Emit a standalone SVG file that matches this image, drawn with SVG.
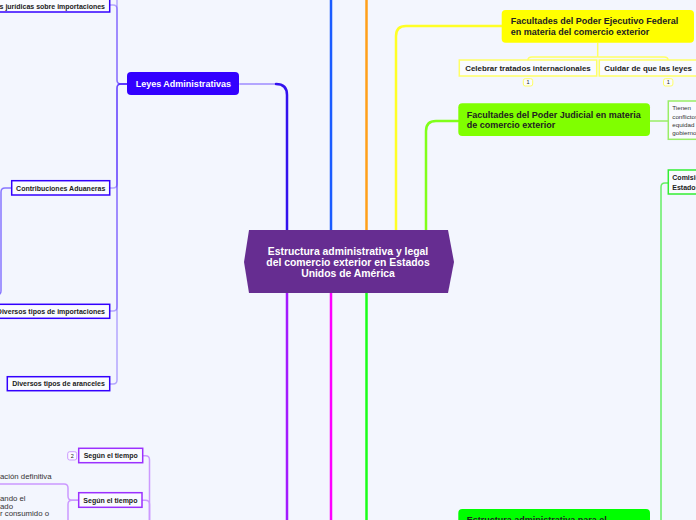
<svg xmlns="http://www.w3.org/2000/svg" width="696" height="520" viewBox="0 0 696 520">
<style>
text{font-family:"Liberation Sans",Arial,sans-serif;fill:#222}
.b{font-weight:bold}
.w{fill:#fff;font-weight:bold}
.leaf{fill:#fafbff;stroke-width:1.5}
.c{fill:none;stroke-linecap:round}
.s{font-size:7px}
.n{font-size:7.8px;font-weight:normal;fill:#333}
.badge{font-size:5.5px;text-anchor:middle}
</style>
<rect width="696" height="520" fill="#f3f6fe"/>
<g id="connectors">
  <path class="c" d="M240,84 H276" stroke="#b3a6ff" stroke-width="2"/>
  <path class="c" d="M276,84 Q287,84 287,95 V230" stroke="#3311ee" stroke-width="2.5"/>
  <path class="c" d="M331,0 V230" stroke="#1a5cff" stroke-width="2.5"/>
  <path class="c" d="M366.5,0 V230" stroke="#ff9f1a" stroke-width="2.5"/>
  <path class="c" d="M502,26 H406 Q396,26 396,36 V230" stroke="#ffff26" stroke-width="2.5"/>
  <path class="c" d="M458,121 H436 Q426,121 426,131 V230" stroke="#80ff1a" stroke-width="2.5"/>
  <path class="c" d="M287,293 V520" stroke="#a31aff" stroke-width="2.5"/>
  <path class="c" d="M331,293 V520" stroke="#ff00ff" stroke-width="2.5"/>
  <path class="c" d="M366.5,293 V520" stroke="#1aff1a" stroke-width="2.5"/>
  <g stroke="#3300ff" stroke-opacity="0.33" stroke-width="1.5" fill="none">
    <path d="M127,84 H121 Q117,84 117,80 V0"/>
    <path d="M127,84 H121 Q117,84 117,80 V9 Q117,5 113,5 H110"/>
    <path d="M127,84 H121 Q117,84 117,88 V184 Q117,188 113,188 H110"/>
    <path d="M127,84 H121 Q117,84 117,88 V307 Q117,311 113,311 H110"/>
    <path d="M127,84 H121 Q117,84 117,88 V380 Q117,384 113,384 H110"/>
  </g>
  <path class="c" d="M11.7,188 H5 Q1,188 1,192 V291 Q1,295 -3,295" stroke="#8877ff" stroke-width="1.5"/>
  <g stroke="#ffff66" stroke-width="1.5" fill="none">
    <path d="M597.7,43 V57"/>
    <path d="M597.7,57 H532 Q528,57 528,60"/>
    <path d="M597.7,57 H664 Q668,57 668,60"/>
  </g>
  <path class="c" d="M650,121 H668" stroke="#99ee66" stroke-width="1.5"/>
  <path class="c" d="M650,530 H657 Q661,530 661,526 V187 Q661,183 665,183 H668" stroke="#66ee66" stroke-width="1.5"/>
  <g stroke="#cc99ff" stroke-width="1.5" fill="none">
    <path d="M142.7,455.7 H145.5 Q149.5,455.7 149.5,459.7 V520"/>
    <path d="M142,500.3 H145.5 Q149.5,500.3 149.5,504.3 V520"/>
    <path d="M78.7,500.3 H72 Q68,500.3 68,496.3 V488 Q68,484 64,484 H0"/>
    <path d="M78.7,500.3 H72 Q68,500.3 68,504.3 V520"/>
  </g>
</g>

<g id="center">
  <polygon points="249,230 448,230 454,262 448,293 249,293 244,262" fill="#662d91"/>
  <text class="w" x="348" y="255" font-size="10.4" text-anchor="middle">Estructura administrativa y legal</text>
  <text class="w" x="348" y="266" font-size="10.4" text-anchor="middle">del comercio exterior en Estados</text>
  <text class="w" x="348" y="277" font-size="10.4" text-anchor="middle">Unidos de América</text>
</g>

<g id="leyes">
  <rect x="127" y="72" width="112" height="23" rx="4" fill="#3300ff"/>
  <text class="w" x="183.3" y="87" font-size="9" text-anchor="middle">Leyes Administrativas</text>
</g>
<g id="regulaciones">
  <rect class="leaf" x="-10" y="-4" width="119.7" height="16" stroke="#3300ff"/>
  <text class="b s" x="105" y="8.5" text-anchor="end">s jurídicas sobre importaciones</text>
</g>
<g id="contribuciones">
  <rect class="leaf" x="11.7" y="180.7" width="98" height="14.3" stroke="#3300ff"/>
  <text class="b s" x="60.7" y="190.5" text-anchor="middle">Contribuciones Aduaneras</text>
</g>
<g id="importaciones">
  <rect class="leaf" x="-10" y="304.3" width="119.7" height="14" stroke="#3300ff"/>
  <text class="b s" x="105" y="313.8" text-anchor="end">Diversos tipos de importaciones</text>
</g>
<g id="aranceles">
  <rect class="leaf" x="7.3" y="376.7" width="102.4" height="14" stroke="#3300ff"/>
  <text class="b s" x="58.5" y="386.3" text-anchor="middle">Diversos tipos de aranceles</text>
</g>

<g id="ejecutivo">
  <rect x="501.7" y="10" width="192.3" height="32.7" rx="4" fill="#ffff00"/>
  <text class="b" x="510.7" y="24" font-size="9">Facultades del Poder Ejecutivo Federal</text>
  <text class="b" x="510.7" y="34.5" font-size="9">en materia del comercio exterior</text>
</g>
<g id="celebrar">
  <rect class="leaf" x="459.3" y="60" width="137.4" height="16" stroke="#ffff66"/>
  <text class="b" x="528" y="71" font-size="7.9" text-anchor="middle">Celebrar tratados internacionales</text>
  <rect x="523.3" y="78.7" width="9.4" height="7.3" rx="2" fill="#fafbff" stroke="#ffff66" stroke-width="1"/>
  <text class="badge" x="528" y="84.3">1</text>
</g>
<g id="cuidar">
  <rect class="leaf" x="599.3" y="60" width="110" height="16" stroke="#ffff66"/>
  <text class="b" x="604.3" y="71" font-size="7.9">Cuidar de que las leyes</text>
  <rect x="663.5" y="78.7" width="9.4" height="7.3" rx="2" fill="#fafbff" stroke="#ffff66" stroke-width="1"/>
  <text class="badge" x="668.2" y="84.3">1</text>
</g>

<g id="judicial">
  <rect x="458.3" y="103.3" width="191.7" height="32.7" rx="4" fill="#80ff00"/>
  <text class="b" x="466.7" y="118" font-size="9">Facultades del Poder Judicial en materia</text>
  <text class="b" x="466.7" y="128.3" font-size="9">de comercio exterior</text>
</g>
<g id="tienen">
  <rect class="leaf" x="668.3" y="101" width="40" height="38.3" stroke="#99ee66"/>
  <text class="n" x="672.3" y="110.3" font-size="6.2" style="font-size:6.2px">Tienen</text>
  <text class="n" x="672.3" y="118.5" style="font-size:6.2px">conflictos</text>
  <text class="n" x="672.3" y="126.8" style="font-size:6.2px">equidad</text>
  <text class="n" x="672.3" y="135" style="font-size:6.2px">gobierno</text>
</g>
<g id="comision">
  <rect class="leaf" x="668.3" y="170" width="40" height="24" stroke="#33ee33"/>
  <text class="b s" x="672.3" y="180">Comisión</text>
  <text class="b s" x="672.3" y="189.5">Estados</text>
</g>
<g id="estructura-adm">
  <rect x="458.3" y="509" width="191.7" height="30" rx="4" fill="#00ff00"/>
  <text class="b" x="466.7" y="523" font-size="9">Estructura administrativa para el</text>
</g>

<g id="segun1">
  <rect class="leaf" x="78.7" y="448.3" width="64" height="14.4" stroke="#9b30ff"/>
  <text class="b s" x="110.7" y="458.2" text-anchor="middle">Según el tiempo</text>
  <rect x="67.7" y="451.7" width="9" height="8.3" rx="2" fill="#fafbff" stroke="#cc99ff" stroke-width="1"/>
  <text class="badge" x="72.2" y="457.7">2</text>
</g>
<g id="segun2">
  <rect class="leaf" x="78.7" y="492.7" width="63.3" height="14.6" stroke="#9b30ff"/>
  <text class="b s" x="110.4" y="502.7" text-anchor="middle">Según el tiempo</text>
</g>
<g id="definitiva">
  <text class="n" x="0" y="479">ación definitiva</text>
</g>
<g id="consumido">
  <text class="n" x="0" y="501">ando el</text>
  <text class="n" x="0" y="508.5">ado</text>
  <text class="n" x="0" y="516">r consumido o</text>
</g>
</svg>
